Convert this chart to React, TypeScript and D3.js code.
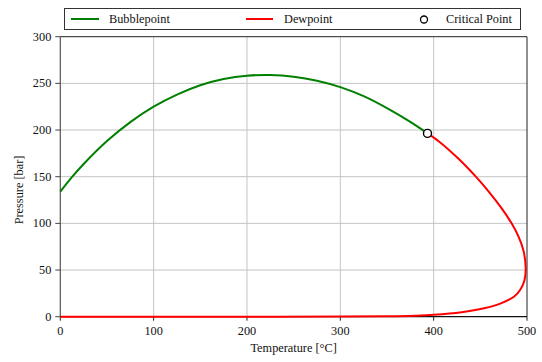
import React from "react";
import * as d3 from "d3";

const bubbleT = [0, 12, 25, 50, 75, 100, 125, 150, 175, 200, 225, 250, 275, 300, 325, 350, 375, 393.4];
const bubbleP = [134, 149, 163.6, 188.2, 208.5, 225, 238, 248, 254.6, 258.2, 259, 257.2, 252.9, 246, 236.3, 223.5, 208.7, 196.4];

const dewT = [0, 100, 200, 300, 350, 380, 400, 430, 454, 472, 486, 492.6, 497.3, 498.6, 496.4, 491.3, 483.5, 472.9, 459, 445.2, 426.1, 406, 393.4];
const dewP = [0, 0.01, 0.05, 0.2, 0.5, 1.1, 2.0, 4.8, 9, 14.3, 21.4, 28.6, 39, 52, 70, 85, 100, 116, 134, 150, 169.7, 187.5, 196.4];

const criticalT = [393.4];
const criticalP = [196.4];

const xTicks = [0, 100, 200, 300, 400, 500];
const yTicks = [0, 50, 100, 150, 200, 250, 300];

const legendLabels = ["Bubblepoint", "Dewpoint", "Critical Point"];

export default function App() {
  const W = 542, H = 362;
  const left = 60.3, right = 527, top = 36.7, bottom = 316.7;
  const x = d3.scaleLinear().domain([0, 500]).range([left, right]);
  const y = d3.scaleLinear().domain([0, 300]).range([bottom, top]);
  const font = "'Liberation Serif', serif";
  const ts: React.CSSProperties = { fontFamily: font, fontSize: 12.3 };

  const line = d3
    .line<[number, number]>()
    .x((d) => x(d[0]))
    .y((d) => y(d[1]))
    .curve(d3.curveCatmullRom.alpha(0.5));

  const bubble = bubbleT.map((t, i) => [t, bubbleP[i]] as [number, number]);
  const dew = dewT.map((t, i) => [t, dewP[i]] as [number, number]);

  return (
    <svg
      width={W}
      height={H}
      style={{ position: "absolute", left: 0, top: 0, background: "#fff", fontFamily: font }}
    >
      {/* grid */}
      {xTicks.slice(1, -1).map((t) => (
        <line key={"gx" + t} x1={x(t)} x2={x(t)} y1={top} y2={bottom} stroke="#c4c4c4" strokeWidth={1} />
      ))}
      {yTicks.slice(1, -1).map((t) => (
        <line key={"gy" + t} x1={left} x2={right} y1={y(t)} y2={y(t)} stroke="#c4c4c4" strokeWidth={1} />
      ))}
      {/* frame */}
      <line x1={left} x2={right} y1={top} y2={top} stroke="#222" strokeWidth={1} />
      <line x1={right} x2={right} y1={top} y2={bottom} stroke="#222" strokeWidth={1} />
      <line x1={left} x2={right} y1={bottom} y2={bottom} stroke="#111" strokeWidth={1.2} />
      <line x1={left} x2={left} y1={top} y2={bottom} stroke="#555" strokeWidth={1.2} />
      {/* ticks */}
      {xTicks.map((t) => (
        <g key={"xt" + t}>
          <line x1={x(t)} x2={x(t)} y1={bottom} y2={bottom + 4} stroke="#222" strokeWidth={1} />
          <text x={x(t)} y={bottom + 18} textAnchor="middle" style={ts} fill="#111">
            {t}
          </text>
        </g>
      ))}
      {yTicks.map((t) => (
        <g key={"yt" + t}>
          <line x1={left - 5} x2={left} y1={y(t)} y2={y(t)} stroke="#444" strokeWidth={1} />
          <text x={left - 9} y={y(t) + 4} textAnchor="end" style={ts} fill="#111">
            {t}
          </text>
        </g>
      ))}
      {/* axis labels */}
      <text x={(left + right) / 2} y={352} textAnchor="middle" style={ts} fill="#111">
        Temperature [°C]
      </text>
      <text transform={`translate(23, ${190}) rotate(-90)`} textAnchor="middle" style={ts} fill="#111">
        Pressure [bar]
      </text>
      {/* curves */}
      <path d={line(dew) || ""} fill="none" stroke="#ff0000" strokeWidth={2} />
      <path d={line(bubble) || ""} fill="none" stroke="#008000" strokeWidth={2} />
      {criticalT.map((t, i) => (
        <circle key={"c" + i} cx={x(t)} cy={y(criticalP[i])} r={4} fill="#fff" stroke="#000" strokeWidth={1.4} />
      ))}
      {/* legend */}
      <rect x={64.5} y={8.5} width={456} height={21} fill="#fff" stroke="#333" strokeWidth={1} />
      <line x1={71} x2={99} y1={19} y2={19} stroke="#008000" strokeWidth={2} />
      <text x={109} y={23} style={ts} fill="#111">{legendLabels[0]}</text>
      <line x1={246} x2={273} y1={19} y2={19} stroke="#ff0000" strokeWidth={2} />
      <text x={284} y={23} style={ts} fill="#111">{legendLabels[1]}</text>
      <circle cx={424} cy={19.5} r={3.5} fill="#fff" stroke="#000" strokeWidth={1.3} />
      <text x={446} y={23} style={ts} fill="#111">{legendLabels[2]}</text>
    </svg>
  );
}
